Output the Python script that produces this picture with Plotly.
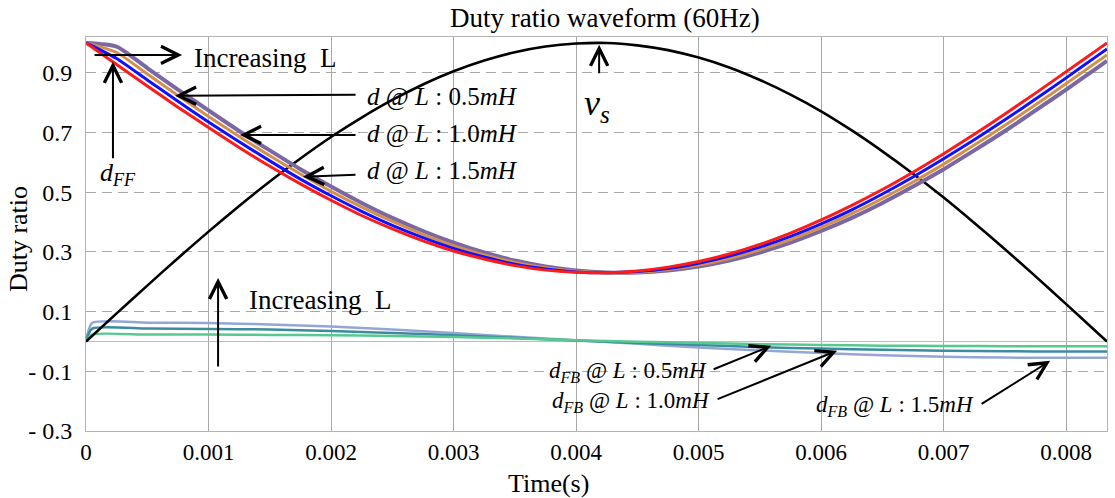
import plotly.graph_objects as go

# ---------------- data ----------------
T = [0.0, 0.00025, 0.0005, 0.00075, 0.001, 0.00125, 0.0015, 0.00175, 0.002, 0.00225,
     0.0025, 0.00275, 0.003, 0.00325, 0.0035, 0.00375, 0.004, 0.00425, 0.0045, 0.00475,
     0.005, 0.00525, 0.0055, 0.00575, 0.006, 0.00625, 0.0065, 0.00675, 0.007, 0.00725,
     0.0075, 0.00775, 0.008, 0.00825, 0.008333]

V_S = [0.0, 0.094, 0.187, 0.279, 0.368, 0.454, 0.536, 0.613, 0.685, 0.750,
       0.809, 0.861, 0.905, 0.941, 0.969, 0.988, 0.998, 1.000, 0.992, 0.976,
       0.951, 0.918, 0.876, 0.827, 0.771, 0.707, 0.637, 0.562, 0.482, 0.397,
       0.309, 0.218, 0.125, 0.031, 0.0]

D_FF = [1.000, 0.928, 0.856, 0.785, 0.717, 0.650, 0.587, 0.528, 0.473, 0.422,
        0.377, 0.337, 0.303, 0.276, 0.254, 0.239, 0.232, 0.230, 0.236, 0.249,
        0.268, 0.293, 0.325, 0.363, 0.407, 0.456, 0.509, 0.567, 0.629, 0.694,
        0.762, 0.832, 0.904, 0.976, 1.000]

D_05 = [1.000, 0.948, 0.876, 0.805, 0.735, 0.669, 0.605, 0.544, 0.488, 0.436,
        0.389, 0.348, 0.312, 0.283, 0.259, 0.243, 0.233, 0.230, 0.234, 0.244,
        0.262, 0.286, 0.316, 0.352, 0.394, 0.441, 0.494, 0.551, 0.612, 0.676,
        0.743, 0.812, 0.883, 0.956, 0.980]

D_10 = [1.000, 0.968, 0.896, 0.824, 0.754, 0.687, 0.622, 0.561, 0.503, 0.450,
        0.402, 0.359, 0.321, 0.290, 0.265, 0.247, 0.235, 0.230, 0.232, 0.241,
        0.256, 0.278, 0.307, 0.341, 0.382, 0.428, 0.479, 0.534, 0.594, 0.658,
        0.724, 0.793, 0.864, 0.936, 0.960]

D_15 = [1.000, 0.988, 0.916, 0.844, 0.774, 0.705, 0.640, 0.577, 0.519, 0.464,
        0.414, 0.370, 0.331, 0.298, 0.271, 0.251, 0.238, 0.231, 0.231, 0.238,
        0.251, 0.271, 0.298, 0.331, 0.370, 0.414, 0.464, 0.519, 0.577, 0.640,
        0.705, 0.774, 0.844, 0.916, 0.940]

T_FB = [0.0, 0.00005, 0.0005, 0.001, 0.0015, 0.002, 0.0025, 0.003, 0.0035, 0.004,
        0.0045, 0.005, 0.0055, 0.006, 0.0065, 0.007, 0.0075, 0.008, 0.008333]

FB_05 = [0.0, 0.023, 0.023, 0.023, 0.022, 0.021, 0.018, 0.015, 0.010, 0.004,
         -0.001, -0.005, -0.009, -0.012, -0.014, -0.015, -0.016, -0.016, -0.016]
FB_10 = [0.0, 0.043, 0.043, 0.042, 0.040, 0.035, 0.028, 0.021, 0.012, 0.003,
         -0.005, -0.012, -0.019, -0.024, -0.028, -0.031, -0.033, -0.034, -0.034]
FB_15 = [0.0, 0.062, 0.063, 0.062, 0.057, 0.050, 0.040, 0.028, 0.016, 0.004,
         -0.008, -0.020, -0.030, -0.039, -0.046, -0.051, -0.054, -0.055, -0.055]

X_TICKS = [0, 0.001, 0.002, 0.003, 0.004, 0.005, 0.006, 0.007, 0.008]
X_TICK_TEXT = ["0", "0.001", "0.002", "0.003", "0.004", "0.005", "0.006", "0.007", "0.008"]
Y_TICKS = [-0.3, -0.1, 0.1, 0.3, 0.5, 0.7, 0.9]
Y_TICK_TEXT = ["- 0.3", "- 0.1", "0.1", "0.3", "0.5", "0.7", "0.9"]

# ---------------- figure ----------------
FONT = "Liberation Serif, Times New Roman, serif"
fig = go.Figure()

def add_line(x, y, color, width):
    fig.add_trace(go.Scatter(x=x, y=y, mode="lines",
                             line=dict(color=color, width=width, shape="spline", smoothing=0.6),
                             hoverinfo="skip", showlegend=False))

add_line(T_FB, FB_15, "#93a6d6", 2.5)
add_line(T_FB, FB_10, "#3b8c9e", 2.5)
add_line(T_FB, FB_05, "#55c98f", 2.5)
add_line(T, V_S, "#000000", 2.6)
add_line(T, D_15, "#7b68a2", 4)
add_line(T, D_10, "#d3904c", 3)
add_line(T, D_05, "#1010ff", 3)
add_line(T, D_FF, "#ff1a1a", 3)

ann = []
def arrow(x, y, ax, ay):
    ann.append(dict(x=x, y=y, ax=ax, ay=ay, xref="x", yref="y", text="", showarrow=True,
                    arrowhead=5, arrowsize=1.7, arrowwidth=2, arrowcolor="black", standoff=0,
                    startstandoff=0))

def label(x, y, text, size, xanchor="left"):
    ann.append(dict(x=x, y=y, xref="x", yref="y", text=text, showarrow=False,
                    xanchor=xanchor, yanchor="middle",
                    font=dict(family=FONT, size=size, color="black")))

# top "Increasing L"
arrow(0.000784, 0.960, -89, 0)
label(0.000865, 0.950, "Increasing\u00a0 L", 27)
# d_FF
arrow(0.00022, 0.937, 0, 98)
label(0.000261, 0.562, "<i>d</i><sub><i>FF</i></sub>", 26, "center")
# d @ L labels
arrow(0.000727, 0.823, 182, -1)
label(0.002278, 0.820, "<i>d</i> @ <i>L</i> : 0.5<i>mH</i>", 25)
arrow(0.001257, 0.692, 117, 0)
label(0.002278, 0.696, "<i>d</i> @ <i>L</i> : 1.0<i>mH</i>", 25)
arrow(0.001771, 0.552, 54, -2)
label(0.002278, 0.572, "<i>d</i> @ <i>L</i> : 1.5<i>mH</i>", 25)
# v_s
arrow(0.004188, 0.994, 0, 30)
label(0.004171, 0.789, "<i>v</i><sub><i>s</i></sub>", 36, "center")
# lower "Increasing L"
arrow(0.001078, 0.213, 0, 90)
label(0.001314, 0.140, "Increasing\u00a0 L", 27)
# d_FB labels
arrow(0.005592, -0.0146, -59, 24)
label(0.004424, -0.102, "<i>d</i><sub><i>FB</i></sub> @ <i>L</i> : 0.5<i>mH</i>", 23, "center")
arrow(0.00613, -0.031, -121, 49)
label(0.004449, -0.202, "<i>d</i><sub><i>FB</i></sub> @ <i>L</i> : 1.0<i>mH</i>", 23, "center")
arrow(0.007869, -0.065, -70, 44)
label(0.006604, -0.216, "<i>d</i><sub><i>FB</i></sub> @ <i>L</i> : 1.5<i>mH</i>", 23, "center")

# title and axis titles
ann.append(dict(x=0.508, y=1.048, xref="paper", yref="paper", text="Duty ratio waveform (60Hz)",
                showarrow=False, xanchor="center", yanchor="middle",
                font=dict(family=FONT, size=27, color="black")))
ann.append(dict(x=0.4525, y=-0.1345, xref="paper", yref="paper", text="Time(s)",
                showarrow=False, xanchor="center", yanchor="middle",
                font=dict(family=FONT, size=26, color="black")))
ann.append(dict(x=-0.0666, y=0.487, xref="paper", yref="paper", text="Duty ratio",
                showarrow=False, xanchor="center", yanchor="middle", textangle=-90,
                font=dict(family=FONT, size=26, color="black")))

fig.update_layout(
    width=1115, height=498,
    margin=dict(l=86, r=8, t=37, b=67),
    plot_bgcolor="white", paper_bgcolor="white",
    showlegend=False,
    font=dict(family=FONT, size=24, color="black"),
    annotations=ann,
    xaxis=dict(range=[0, 0.008333], tickmode="array", tickvals=X_TICKS, ticktext=X_TICK_TEXT,
               showgrid=True, gridcolor="#a8a8a8", gridwidth=1, zeroline=False,
               showline=True, mirror=True, linecolor="#b4b4b4", linewidth=1,
               ticks="", ticklabelstandoff=0, tickfont=dict(family=FONT, size=23)),
    yaxis=dict(range=[-0.3, 1.02], tickmode="array", tickvals=Y_TICKS, ticktext=Y_TICK_TEXT,
               showgrid=True, gridcolor="#a8a8a8", gridwidth=1, griddash="10px,6px",
               zeroline=True, zerolinecolor="#bcbcbc", zerolinewidth=1,
               showline=True, mirror=True, linecolor="#b4b4b4", linewidth=1,
               ticks="", ticklabelstandoff=8, tickfont=dict(family=FONT, size=24)),
)

# place the figure at the window's top-left corner (no default page margin), no modebar
fig.write_html("out.html", config={"displayModeBar": False},
               post_script="document.body.style.margin='0';")
